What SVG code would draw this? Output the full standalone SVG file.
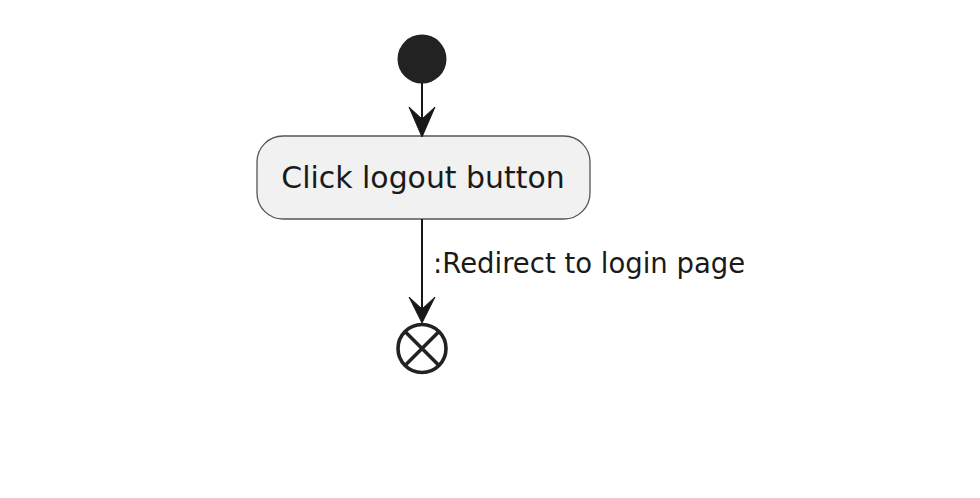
<svg xmlns="http://www.w3.org/2000/svg" width="980" height="498" viewBox="0 0 980 498">
<style>
.act{fill:#F1F1F1;stroke:#555555;stroke-width:1.3}
.lbl{font-family:"DejaVu Sans",sans-serif;fill:#1A1A1A}
.edge{stroke:#181818;stroke-width:2;fill:none}
.head{fill:#181818;stroke:#181818;stroke-width:1}
</style>
<rect width="980" height="498" fill="#FFFFFF"/>
<g id="start">
<circle cx="422" cy="59" r="24.5" fill="#222222"/>
</g>
<g id="click-logout">
<rect class="act" x="257" y="136" width="333" height="83" rx="26" ry="26"/>
<text class="lbl" x="423" y="188" font-size="29.9" text-anchor="middle">Click logout button</text>
</g>
<g id="end">
<circle cx="422" cy="348.5" r="24" fill="#FFFFFF" stroke="#222222" stroke-width="3.6"/>
<line x1="405" y1="331.5" x2="439" y2="365.5" stroke="#222222" stroke-width="3.6"/>
<line x1="439" y1="331.5" x2="405" y2="365.5" stroke="#222222" stroke-width="3.6"/>
</g>
<g id="connectors">
<line class="edge" x1="422" y1="83" x2="422" y2="128"/>
<polygon class="head" points="422,137 409,107 422,119 435,107"/>
<line class="edge" x1="422" y1="219" x2="422" y2="314"/>
<polygon class="head" points="422,323 409,297 422,309 435,297"/>
<text class="lbl" x="433" y="273" font-size="27.5">:Redirect to login page</text>
</g>
</svg>
